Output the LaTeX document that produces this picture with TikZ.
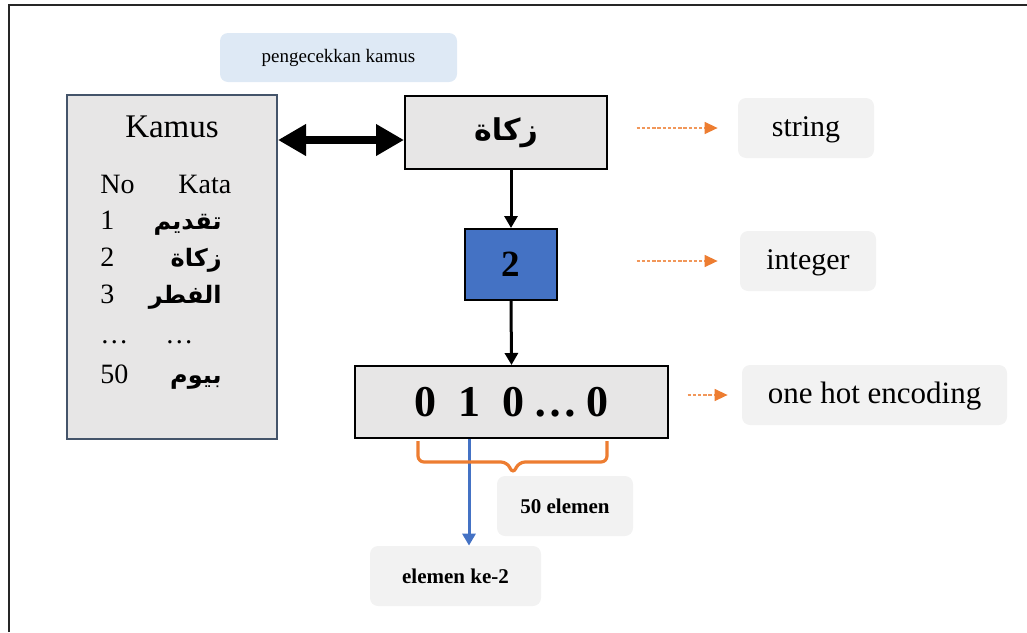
\documentclass[tikz,border=0pt]{standalone}
\usepackage{fontspec}
\setmainfont{Liberation Serif}
\newfontfamily\arabicfont[Script=Arabic]{DejaVu Sans}
\TeXXeTstate=1
\usetikzlibrary{arrows.meta}

\definecolor{boxgrey}{RGB}{231,230,230}
\definecolor{taggrey}{RGB}{242,242,242}
\definecolor{cekblue}{RGB}{222,233,245}
\definecolor{kamusline}{RGB}{68,84,106}
\definecolor{officeblue}{RGB}{68,114,196}
\definecolor{officeorange}{RGB}{237,125,49}

\newcommand{\arword}[1]{{\arabicfont\bfseries\beginR#1\endR}}
\newcommand{\fsz}[1]{\fontsize{#1}{#1}\selectfont}

\begin{document}
\begin{tikzpicture}[x=0.5pt,y=-0.5pt]
    \tikzstyle{gbox}=[draw=black, line width=1pt, fill=boxgrey, inner sep=0pt]
    \tikzstyle{tag}=[fill=taggrey, rounded corners=4pt, inner sep=0pt, minimum height=30pt]
    \tikzstyle{typetag}=[tag, text height=0.8em, text depth=0pt]
    \tikzstyle{marrs}=[line width=1.5pt, -{Triangle[length=6pt,width=6.5pt]}]
    \tikzstyle{dblarrs}=[line width=4pt, {Triangle[length=14pt,width=15pt]}-{Triangle[length=14pt,width=15pt]}]
    \tikzstyle{darrs}=[officeorange!80, line width=0.7pt, dash pattern=on 1.7pt off 0.9pt,
        -{Triangle[length=6.5pt,width=6pt,color=officeorange]}]
    \tikzstyle{listitem}=[inner sep=0pt, font=\fsz{14}]

    \useasboundingbox (0,0) rectangle (1027,632);
    \draw[line width=1pt, black!85] (9,632) -- (9,5) -- (1027,5);

    % kamus
    \node[fill=cekblue, rounded corners=4pt, minimum width=118.5pt, minimum height=24.5pt,
        font=\fsz{9.5}] (cek) at (338.5,57.5) {pengecekkan kamus};
    \node[draw=kamusline, line width=1pt, fill=boxgrey, minimum width=105pt,
        minimum height=172pt] (kamus) at (172,267) {};
    \node[font=\fsz{16.5}] (judul) at (172,127) {Kamus};
    \node[listitem, anchor=base west] (hno) at (100,193) {No};
    \node[listitem, anchor=base west] (hkata) at (178,193) {Kata};
    \foreach \n/\w/\y in {1/تقديم/229, 2/زكاة/266, 3/الفطر/303, 50/بيوم/383}{
        \node[listitem, anchor=base west] (no\n) at (100,\y) {\n};
        \node[listitem, anchor=base east, font=\fsz{12}] (kata\n) at (222,\y) {\arword{\w}};
    }
    \node[listitem, anchor=base west] (nodots) at (100,343) {…};
    \node[listitem, anchor=base west] (katadots) at (165,343) {…};

    % string -> integer -> one hot
    \node[gbox, minimum width=101pt, minimum height=36.5pt, font=\fsz{15}] (kata) at (506,132.5) {\arword{زكاة}};
    \node[gbox, fill=officeblue, minimum width=46pt, minimum height=35.5pt,
        font=\fsz{18.5}\bfseries] (angka) at (511,264.5) {2};
    \node[gbox, minimum width=156.5pt, minimum height=36pt, font=\fsz{22}\bfseries] (onehot) at (511.5,402)
        {0\hspace{.5em}1\hspace{.5em}0\hspace{.2em}…\hspace{.2em}0};

    \node[typetag, minimum width=68pt, font=\fsz{15}] (tstring) at (806,128) {string};
    \node[typetag, minimum width=68pt, font=\fsz{15}] (tint) at (808,261) {integer};
    \node[typetag, minimum width=132.5pt, font=\fsz{15.5}] (tonehot) at (874.5,395) {one hot encoding};
    \node[tag, minimum width=68pt, font=\fsz{10.5}\bfseries] (tlima) at (565,506) {50 elemen};
    \node[tag, minimum width=85.5pt, font=\fsz{10.5}\bfseries] (tke) at (455.5,576) {elemen ke-2};

    \coordinate (dbl) at (0,140);
    \coordinate (pilih) at (469,0);
    \draw[dblarrs] (kamus.east |- dbl) -- (kata.west |- dbl);
    \draw[marrs] (angka.north |- kata.south) -- (angka.north);
    \draw[marrs] (angka.south) -- (onehot.north);
    \draw[marrs, officeblue] (onehot.south -| pilih) -- (tke.north -| pilih);

    \draw[darrs] ([xshift=-50.5pt]tstring.west) -- ([xshift=-10pt]tstring.west);
    \draw[darrs] ([xshift=-51.5pt]tint.west) -- ([xshift=-11pt]tint.west);
    \draw[darrs] ([xshift=-27pt]tonehot.west) -- ([xshift=-7pt]tonehot.west);

    % brace under the vector
    \draw[officeorange, line width=1.6pt, rounded corners=3pt]
        (418,441) -- (418,462) -- (507,462) -- (513,474) -- (519,462) -- (607,462) -- (607,441);
\end{tikzpicture}
\end{document}
